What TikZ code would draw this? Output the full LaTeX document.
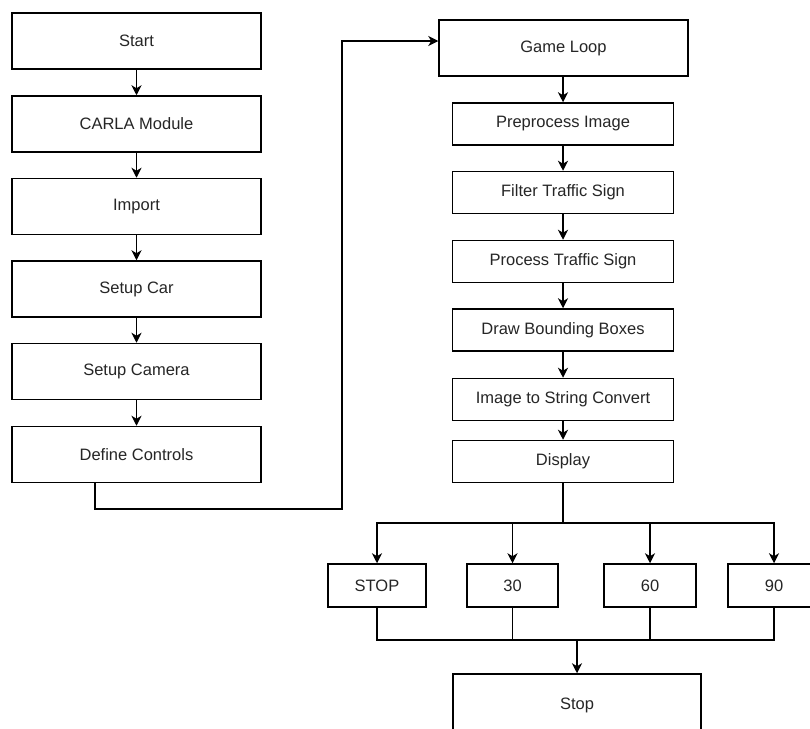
\documentclass[tikz,border=0pt]{standalone}
\usepackage{fontspec}
\setmainfont{Liberation Sans}
\usetikzlibrary{arrows.meta}
\begin{document}
\begin{tikzpicture}[x=1pt,y=-1pt,
  box/.style={draw, line width=1.5pt, fill=white, inner sep=0pt, text=black!85, font=\fontsize{16.5}{19}\selectfont},
  lbox/.style={box, minimum width=249pt, minimum height=56pt},
  rbox/.style={box, minimum width=221pt, minimum height=42pt},
  sbox/.style={box, minimum height=43pt},
  ln/.style={line width=1.5pt},
  arr/.style={line width=1.5pt, -{Stealth[length=10pt,width=10pt,inset=3pt]}}]
\useasboundingbox (0,0) rectangle (810,728);
\clip (0,0) rectangle (810,728);
% left column
\node[lbox] (start) at (136.5,41) {Start};
\node[lbox] (carla) at (136.5,124) {CARLA Module};
\node[lbox] (import) at (136.5,206.5) {Import};
\node[lbox] (car) at (136.5,289) {Setup Car};
\node[lbox] (cam) at (136.5,371.5) {Setup Camera};
\node[lbox] (ctrl) at (136.5,454.5) {Define Controls};
% right column
\node[lbox] (game) at (563.5,48) {Game Loop};
\node[rbox] (pre) at (563,124) {Preprocess Image};
\node[rbox] (filt) at (563,192.5) {Filter Traffic Sign};
\node[rbox] (proc) at (563,261.5) {Process Traffic Sign};
\node[rbox] (bbox) at (563,330) {Draw Bounding Boxes};
\node[rbox] (conv) at (563,399.5) {Image to String Convert};
\node[rbox] (disp) at (563,461.5) {Display};
% branches
\node[sbox, minimum width=98pt] (sstop) at (377,585.5) {STOP};
\node[sbox, minimum width=91pt] (s30) at (512.5,585.5) {30};
\node[sbox, minimum width=92pt] (s60) at (650,585.5) {60};
\node[sbox, minimum width=92pt] (s90) at (774,585.5) {90};
\node[box, minimum width=248pt, minimum height=62pt] (stop) at (577,705) {Stop};
% connectors
\draw[arr] (start) -- (carla);
\draw[arr] (carla) -- (import);
\draw[arr] (import) -- (car);
\draw[arr] (car) -- (cam);
\draw[arr] (cam) -- (ctrl);
\coordinate (c0) at (95,482.5);
\coordinate (c1) at (342,509);
\coordinate (c2) at (342,41);
\draw[arr] (c0 |- ctrl.south) |- (c1) -- (c2) -- (c2 -| game.west);
\draw[arr] (game.south -| pre.north) -- (pre.north);
\draw[arr] (pre) -- (filt);
\draw[arr] (filt) -- (proc);
\draw[arr] (proc) -- (bbox);
\draw[arr] (bbox) -- (conv);
\draw[arr] (conv) -- (disp);
\coordinate (b1) at (563,523);
\draw[ln] (disp.south) -- (b1);
\draw[arr] (b1) -| (sstop.north);
\draw[arr] (b1) -| (s30.north);
\draw[arr] (b1) -| (s60.north);
\draw[arr] (b1) -| (s90.north);
\coordinate (m) at (577,640);
\draw[ln] (sstop.south) |- (m) -| (s90.south);
\draw[ln] (s30.south) -- (s30.south |- m);
\draw[ln] (s60.south) -- (s60.south |- m);
\draw[arr] (m) -- (stop.north);
\end{tikzpicture}
\end{document}
